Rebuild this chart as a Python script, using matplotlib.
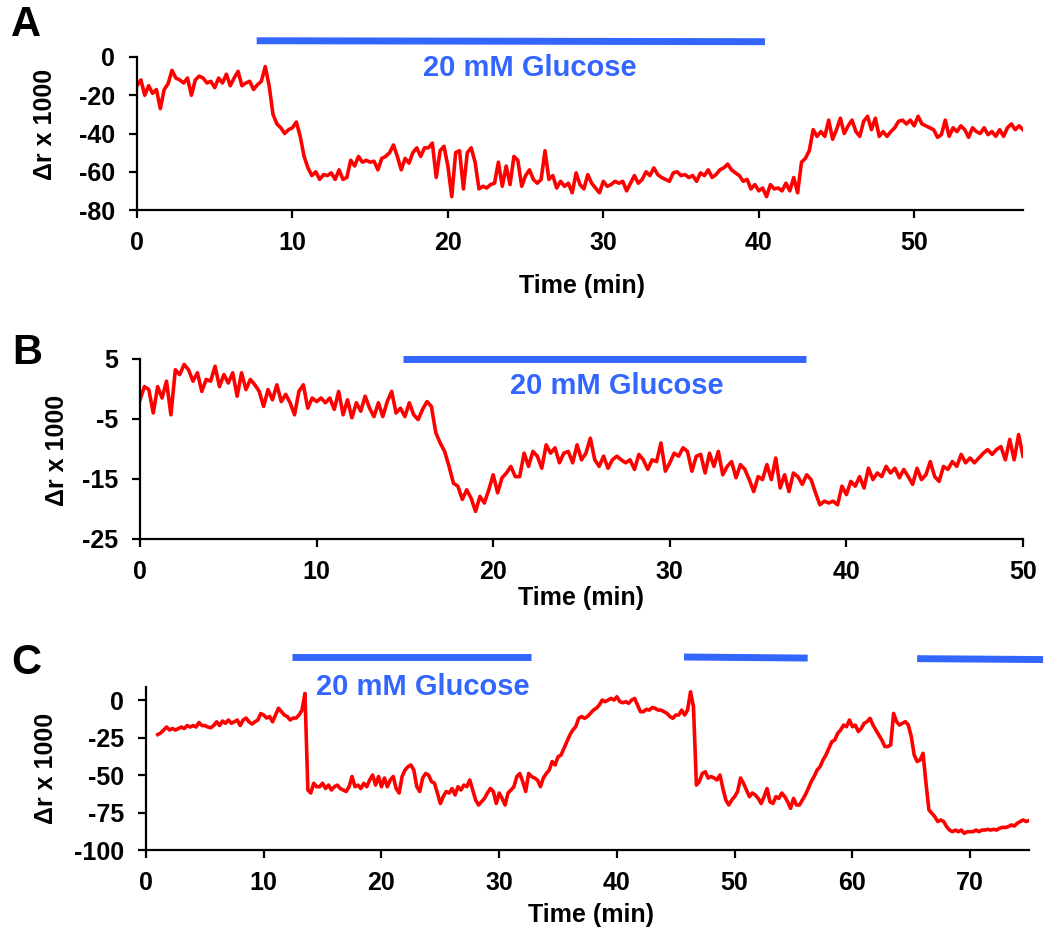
import numpy as np
import matplotlib
matplotlib.use("Agg")
import matplotlib.pyplot as plt

plt.rcParams['font.family'] = ['Liberation Sans', 'DejaVu Sans']
plt.rcParams['font.weight'] = 'bold'
plt.rcParams['axes.labelweight'] = 'bold'
plt.rcParams['axes.unicode_minus'] = False

# ---- panel A: trace sampled every 0.25 min, 0..57 min
t_a = np.arange(0, 57.01, 0.25)
r_a = [-15, -12, -20, -15, -19, -17, -27, -17, -14, -7, -11, -12,
       -13.6, -11, -20, -12, -10, -11, -13.6, -12.7, -16, -11, -13.6, -9,
       -15, -11, -7.5, -15, -13.6, -12.7, -17, -14.5, -12.7, -5, -15, -30,
       -35, -37, -40, -38, -37, -34, -41.5, -52, -58, -62, -60, -64,
       -61.5, -62, -60.6, -64, -59, -64, -63, -54, -57, -52, -55, -54,
       -55, -54.5, -59, -53, -52, -50, -46, -52, -59, -53, -55.5, -50,
       -47.5, -52, -47.5, -47.5, -45, -63, -49, -46.7, -57, -73, -50, -49,
       -69, -50, -47.5, -55, -69, -67.6, -68.5, -66.7, -66, -55, -67.6, -57,
       -66.7, -52, -54, -67.6, -62, -59, -64, -66, -64, -49, -64, -62,
       -68.5, -65, -67.6, -66, -71, -60.6, -66.7, -69, -61.5, -66, -68.5, -71,
       -65, -67.6, -66.7, -65, -66, -65, -70, -66, -62, -66, -64, -60,
       -62, -58, -61.5, -63, -64, -65, -60.6, -60, -62, -61.5, -63, -62,
       -65, -60.6, -62, -59, -63, -61.5, -59, -58, -56, -59, -60.6, -62,
       -65, -64, -69, -66.7, -70, -68.5, -73, -66.7, -69, -68.5, -70, -66,
       -70, -63, -71, -55, -53, -49, -38, -41.5, -39, -41.5, -33, -43,
       -38, -32, -40, -36, -33, -39, -41.5, -33.6, -31, -38, -32, -41.5,
       -39, -41.5, -39, -37, -33.6, -33, -35, -33, -36, -31, -35, -36,
       -37, -38, -42, -40.6, -33, -41.5, -37, -39, -36, -38, -42, -37,
       -39, -40, -37, -40.6, -39, -41.5, -38, -41.5, -37, -35, -38, -36,
       -38]

# ---- panel B: 0..50 min
t_b = np.arange(0, 50.01, 0.25)
r_b = [-1.8, 0.4, -0.1, -4, 0.4, -1.5, 1.3, -4.3, 3.2, 2.4, 4.1, 3.2,
       1.3, 2.7, -0.4, 1.6, 1.3, 3.8, 0.4, 2.4, 1.0, 2.7, -1.2, 2.7,
       -0.1, 1.6, 0.7, -0.4, -2.9, -0.1, -1.8, 0.7, -2.1, -0.9, -2.3, -4.3,
       -0.4, 0.7, -3.2, -1.5, -2.1, -1.5, -2.3, -1.5, -3.4, -0.4, -4.3, -1.8,
       -4.8, -2.3, -3.7, -1.2, -3.2, -4.6, -2.3, -4.6, -2.1, -0.4, -4.0, -3.2,
       -4.6, -2.3, -4.3, -5.1, -3.4, -2.1, -2.9, -7.3, -9, -10.4, -12.9, -15.7,
       -16.2, -18.4, -16.8, -18.2, -20.4, -17.9, -19, -16.8, -14.3, -17.3, -14.8, -14,
       -12.9, -14.6, -14.6, -10.7, -12.9, -10.4, -11.2, -13.2, -9.3, -10.7, -9.8, -12.3,
       -10.7, -10.4, -12.3, -9.3, -11.8, -10.7, -8.2, -11.8, -12.9, -11.2, -13.2, -11.8,
       -11.2, -11.8, -12.3, -11.8, -13.4, -10.9, -11.8, -13.4, -11.8, -12.1, -9, -13.7,
       -12.3, -10.7, -11.2, -9.8, -10.4, -13.7, -11.2, -10.9, -14, -10.7, -12.9, -10.4,
       -14.3, -12.9, -12.1, -14.8, -12.6, -13.4, -15.1, -17.1, -14.6, -15.1, -12.6, -15.1,
       -11.5, -16.5, -14.3, -17.1, -14, -14.6, -15.9, -14.3, -15.1, -17.3, -19.3, -18.7,
       -19, -18.7, -19.3, -16.2, -17.6, -15.4, -16.2, -14.6, -16.5, -13.2, -15.1, -14,
       -14.6, -12.9, -14, -13.2, -14.8, -13.4, -14.6, -15.9, -13.2, -15.1, -14.3, -12.1,
       -14.6, -15.4, -12.9, -13.4, -12.1, -12.9, -10.9, -12.3, -11.5, -12.3, -11.5, -10.7,
       -10.1, -10.9, -10.1, -9.6, -11.8, -8.4, -11.8, -7.6,
       -11.2]

# ---- panel C: 1..75 min
t_c = np.arange(1, 75.01, 0.25)
r_c = [-23, -22, -20, -18, -20, -19, -20, -19, -18, -19, -17, -18,
       -17, -18, -15, -17, -17, -18, -18.5, -17, -14.5, -17, -14, -15.5,
       -13.3, -15.5, -14.5, -13.3, -17, -13.3, -12, -14.5, -16, -14.5, -13.3, -9,
       -10, -12, -11, -14.5, -10, -5.5, -7.8, -10, -11, -13.3, -12, -12,
       -10, -6.7, 4.4, -60, -62, -55.5, -57.8, -57.8, -55.5, -59, -56.7, -60,
       -57.8, -56.7, -59, -60, -61, -57.8, -51, -57.8, -56.7, -59, -55.5, -57.8,
       -53.3, -50, -56.7, -51, -57.8, -52, -57.8, -53.3, -51, -59, -62, -51,
       -46.7, -44.5, -43.3, -46.7, -57.8, -61, -52, -49, -50, -54.4, -55.5, -62,
       -69, -64.4, -61, -62, -59, -63.3, -57.8, -60, -56.7, -57.8, -53.3, -60,
       -66.7, -70, -67.8, -65.6, -62, -59, -61, -69, -62, -65.6, -70, -62,
       -60, -57.8, -51, -49, -54.4, -61, -49, -51, -52, -53.3, -57.8, -52,
       -49, -46.7, -41, -43.3, -37.8, -36.7, -32.2, -27.8, -23.3, -20, -17.8, -12.2,
       -11, -12.2, -11, -8.9, -6.7, -5.5, -3.3, 0, -1.1, 0, 1.1, 0,
       2.2, -1.1, -1.8, -1.1, -2.2, 0, 1.1, -3.3, -7.8, -7.8, -6.2, -6.7,
       -5, -5.5, -6.7, -6.7, -7.8, -8.9, -11, -12.2, -10, -10, -6.7, -10,
       -6.7, 5.5, -4.4, -56.7, -54.4, -49, -47.8, -52, -51, -52, -53.3, -50,
       -59, -66.7, -70, -66.7, -64.4, -61, -52, -55.5, -60, -64.4, -62, -63.3,
       -65.6, -69, -64.4, -59, -67.8, -69, -64.4, -65.6, -62, -64.4, -67.8, -72.2,
       -65.6, -70, -70, -66.7, -63.3, -59, -54.4, -51, -46.7, -44.5, -40, -36.7,
       -32.2, -27.8, -26.7, -22.2, -20, -16.7, -17.8, -13.3, -17.8, -16.7, -21, -19,
       -15.5, -14.4, -12.2, -16.7, -20, -23.3, -26.7, -31, -31, -30, -8.9, -14.4,
       -16.7, -15.5, -14.4, -16.7, -24.4, -36.7, -41, -40, -35.5, -55.5, -73.3, -75.5,
       -77.8, -81, -80, -81, -84.4, -86.7, -87.8, -86.7, -87.8, -86.7, -88.9, -87.8,
       -87.8, -87.8, -86.7, -87.8, -86.7, -86.7, -86.2, -86.7, -86.2, -86.7, -85.5, -84.9,
       -85, -84.4, -83.3, -84, -82.2, -81, -80, -81,
       -80.4]

# glucose application periods (min)
glucose_a = [(7.7, 40.4)]
glucose_b = [(14.9, 37.7)]
glucose_c = [(12.4, 32.7), (45.7, 56.2), (65.5, 76.2)]

RED = '#ff0000'
BLUE = '#3366ff'
W, H = 1044, 932

fig = plt.figure(figsize=(W / 100, H / 100), dpi=100)


def px_axes(left, top, right, bottom):
    return fig.add_axes([left / W, 1 - bottom / H, (right - left) / W, (bottom - top) / H])


def style(ax, xlim, ylim, xticks, yticks):
    ax.set_xlim(*xlim)
    ax.set_ylim(*ylim)
    ax.set_xticks(xticks)
    ax.set_yticks(yticks)
    for s in ['top', 'right']:
        ax.spines[s].set_visible(False)
    for s in ['left', 'bottom']:
        ax.spines[s].set_linewidth(1.6)
    ax.tick_params(direction='out', length=6, width=1.6, labelsize=18)
    ax.tick_params(axis='x', pad=9)
    ax.tick_params(axis='y', pad=10)


def bars(ax, periods, y0, y1):
    for a, b in periods:
        ax.plot([a, b], [y0, y1], color=BLUE, lw=5, solid_capstyle='butt', clip_on=False)


# A
ax_a = px_axes(137, 57, 1023, 210)
ax_a.plot(t_a, r_a, color=RED, lw=2.6)
style(ax_a, (0, 57), (-80, 0), [0, 10, 20, 30, 40, 50], [0, -20, -40, -60, -80])
bars(ax_a, glucose_a, 8.5, 8.0)
ax_a.text(25.3, -5.6, '20 mM Glucose', color=BLUE, fontsize=21, ha='center', va='center')
ax_a.set_ylabel('\u0394r x 1000', fontsize=18, va='center')
ax_a.yaxis.set_label_coords(-0.104, 0.56)
ax_a.set_xlabel('Time (min)', fontsize=18, va='center')
ax_a.xaxis.set_label_coords(0.502, -0.50)

# B
ax_b = px_axes(140, 359, 1023, 539)
ax_b.plot(t_b, r_b, color=RED, lw=2.6)
style(ax_b, (0, 50), (-25, 5), [0, 10, 20, 30, 40, 50], [5, -5, -15, -25])
bars(ax_b, glucose_b, 5.0, 5.0)
ax_b.text(27.0, 0.5, '20 mM Glucose', color=BLUE, fontsize=21, ha='center', va='center')
ax_b.set_ylabel('\u0394r x 1000', fontsize=18, va='center')
ax_b.yaxis.set_label_coords(-0.094, 0.49)
ax_b.set_xlabel('Time (min)', fontsize=18, va='center')
ax_b.xaxis.set_label_coords(0.50, -0.33)

# C
ax_c = px_axes(146, 687, 1029, 850)
ax_c.plot(t_c, r_c, color=RED, lw=2.6)
style(ax_c, (0, 75), (-100, 8.7), [0, 10, 20, 30, 40, 50, 60, 70], [0, -25, -50, -75, -100])
bars(ax_c, glucose_c[:1], 28.7, 28.7)
bars(ax_c, glucose_c[1:2], 28.7, 28.0)
bars(ax_c, glucose_c[2:], 27.6, 27.0)
ax_c.text(23.5, 8.7, '20 mM Glucose', color=BLUE, fontsize=21, ha='center', va='center')
ax_c.set_ylabel('\u0394r x 1000', fontsize=18, va='center')
ax_c.yaxis.set_label_coords(-0.113, 0.5)
ax_c.set_xlabel('Time (min)', fontsize=18, va='center')
ax_c.xaxis.set_label_coords(0.504, -0.40)

for letter, (x, y) in zip('ABC', [(26, 25), (27, 353), (26, 663)]):
    fig.text(x / W, 1 - y / H, letter, fontsize=30, ha='center', va='center')

plt.savefig('out.png', dpi=100)
